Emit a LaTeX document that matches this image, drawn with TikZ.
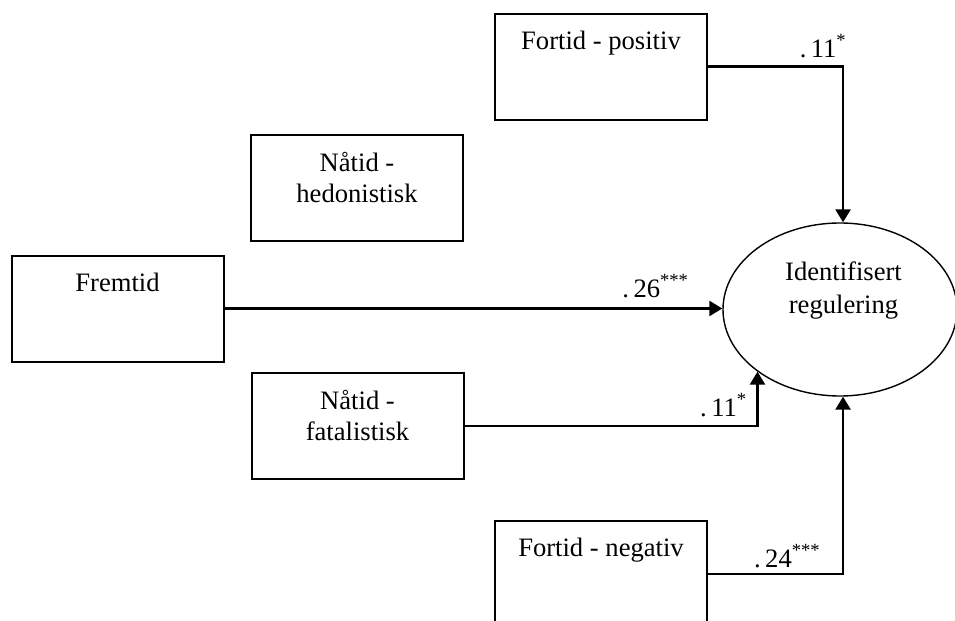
\documentclass[tikz,border=0pt]{standalone}
\usepackage{fontspec}
\setmainfont{Liberation Serif}
\usetikzlibrary{arrows.meta,shapes.geometric}
\tikzset{
  varBox/.style={rectangle, draw, line width=1pt, minimum width=106pt, minimum height=53pt},
  boxText/.style={anchor=north, inner sep=0pt, align=center, yshift=-9pt, font=\fontsize{13.3}{15.5}\selectfont},
  ellText/.style={anchor=north, inner sep=0pt, align=center, yshift=-19.5pt, xshift=1.75pt, font=\fontsize{13.3}{16.5}\selectfont},
  pathArrow/.style={line width=1.25pt, -{Triangle[length=6.5pt,width=7.5pt]}},
  coefText/.style={inner sep=0pt, anchor=base east, font=\fontsize{13.3}{15.5}\selectfont}
}
\begin{document}
\begin{tikzpicture}[x=0.5pt,y=-0.5pt]
  \useasboundingbox (0,0) rectangle (955,621);
  % boxes
  \node[varBox, label={[boxText]north:Fortid - positiv}] (fortidPositiv) at (601,66.5) {};
  \node[varBox, label={[boxText]north:Nåtid -\\hedonistisk}] (naatidHedonistisk) at (357,188) {};
  \node[varBox, label={[boxText]north:Fremtid}] (fremtid) at (117.5,308.5) {};
  \node[varBox, label={[boxText]north:Nåtid -\\fatalistisk}] (naatidFatalistisk) at (357.5,426) {};
  \node[varBox, label={[boxText]north:Fortid - negativ}] (fortidNegativ) at (601,574) {};
  \node[ellipse, draw, line width=0.7pt, inner sep=0pt, minimum width=117pt, minimum height=86.5pt,
        label={[ellText]north:Identifisert\\regulering}] (identReg) at (840,309.5) {};
  % paths
  \draw[pathArrow] (fortidPositiv.east) -| node[coefText, pos=0.5, shift={(5,-9.5)}] (coefPos) {.\,11\textsuperscript{*}} (identReg.88);
  \draw[pathArrow] (fremtid.east) -- node[coefText, pos=1, shift={(-32,-11.5)}] (coefFrem) {.\,26\textsuperscript{***}} (fremtid.east -| identReg.west);
  \draw[pathArrow] (naatidFatalistisk.east) -| node[coefText, pos=0.5, shift={(-9,-10)}] (coefFat) {.\,11\textsuperscript{*}} (identReg.217);
  \draw[pathArrow] (fortidNegativ.east) -| node[coefText, pos=0.5, shift={(-21,-7)}] (coefNeg) {.\,24\textsuperscript{***}} (identReg.272);
\end{tikzpicture}
\end{document}
